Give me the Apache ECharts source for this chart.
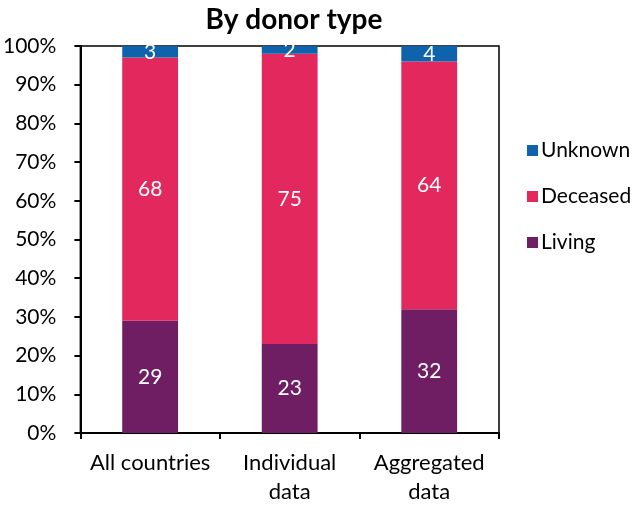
<!DOCTYPE html>
<html>
<head>
<meta charset="utf-8">
<script src="https://cdn.jsdelivr.net/npm/echarts@6/dist/echarts.min.js"></script>
<style>
  html, body { margin: 0; padding: 0; background: #fff; }
  #chart { width: 633px; height: 508px; }
</style>
</head>
<body>
<div id="chart"></div>
<script>
const categories = ["All countries", "Individual\ndata", "Aggregated\ndata"]
const living = [29, 23, 32]
const deceased = [68, 75, 64]
const unknown = [3, 2, 4]

const FONT = "Lato, 'Open Sans', sans-serif"

const chart = echarts.init(document.getElementById("chart"))

const segLabel = {
  show: true,
  position: "inside",
  color: "#fff",
  fontSize: 21,
  fontFamily: FONT,
}

chart.setOption({
  animation: false,
  title: {
    text: "By donor type",
    left: 289,
    textAlign: "center",
    top: 1,
    textStyle: { fontSize: 28, fontWeight: "bold", color: "#000", fontFamily: FONT },
  },
  legend: {
    orient: "vertical",
    left: 522,
    top: 135,
    itemGap: 25,
    itemWidth: 11,
    itemHeight: 11,
    icon: "rect",
    data: ["Unknown", "Deceased", "Living"],
    textStyle: { fontSize: 21, lineHeight: 21, color: "#000", fontFamily: FONT, padding: [0, 0, 0, -2] },
  },
  grid: {
    left: 80, right: 134, top: 46, bottom: 75,
    show: true, borderColor: "#000", borderWidth: 1.5,
  },
  xAxis: {
    type: "category",
    data: categories,
    axisLine: { lineStyle: { color: "#000", width: 2 } },
    axisTick: { show: true, length: 6, lineStyle: { color: "#000", width: 2 } },
    axisLabel: {
      color: "#000", fontSize: 22, fontFamily: FONT, margin: 15, lineHeight: 29,
      interval: 0, hideOverlap: false,
    },
  },
  yAxis: {
    type: "value",
    min: 0,
    max: 100,
    interval: 10,
    axisLine: { show: true, lineStyle: { color: "#000", width: 2 } },
    axisTick: { show: true, length: 6, lineStyle: { color: "#000", width: 2 } },
    axisLabel: { color: "#000", fontSize: 21, fontFamily: FONT, margin: 24, formatter: "{value}%" },
    splitLine: { show: false },
  },
  series: [
    {
      name: "Living", type: "bar", stack: "total", barWidth: "40%",
      itemStyle: { color: "#701E63" }, label: segLabel, data: living,
    },
    {
      name: "Deceased", type: "bar", stack: "total", barWidth: "40%",
      itemStyle: { color: "#E2285C" }, label: segLabel, data: deceased,
    },
    {
      name: "Unknown", type: "bar", stack: "total", barWidth: "40%",
      itemStyle: { color: "#0F62AC" }, label: segLabel, data: unknown,
    },
  ],
})
</script>
</body>
</html>
